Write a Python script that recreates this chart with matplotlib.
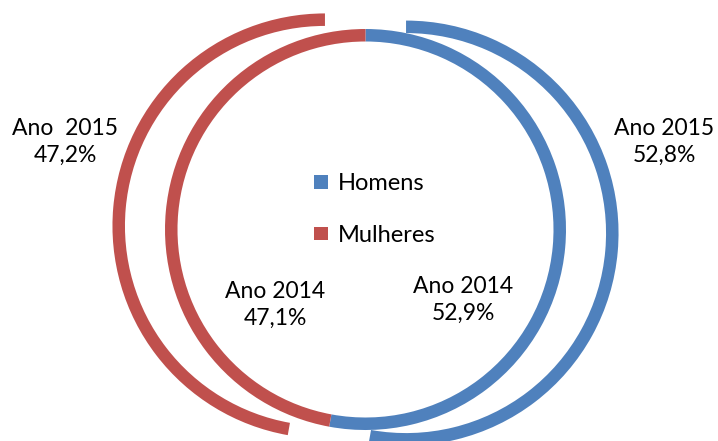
import matplotlib
matplotlib.use("Agg")
import matplotlib.pyplot as plt

plt.rcParams['font.family'] = ['Lato', 'DejaVu Sans']

# data
categories = ["Homens", "Mulheres"]
share_2014 = [52.9, 47.1]
share_2015 = [52.8, 47.2]
labels_2014 = ["Ano 2014\n52,9%", "Ano 2014\n47,1%"]
labels_2015 = ["Ano 2015\n52,8%", "Ano  2015\n47,2%"]
colors = ["#4F81BD", "#C0504D"]

W, H = 718, 441
CX, CY = 365.5, H - 229.5     # pixel-like data coords, y up
R_IN, R_OUT, RING = 200.5, 212.5, 12.5
EXPLODE = 40.7

fig = plt.figure(figsize=(W / 100, H / 100), dpi=100)
ax = fig.add_axes([0, 0, 1, 1])

# outer ring (2015), exploded
wedges, _ = ax.pie(share_2015, radius=R_OUT, center=(CX, CY), colors=colors,
                   startangle=90, counterclock=False,
                   explode=[EXPLODE, EXPLODE],
                   wedgeprops=dict(width=RING, linewidth=0))
# inner ring (2014)
ax.pie(share_2014, radius=R_IN, center=(CX, CY), colors=colors,
       startangle=90, counterclock=False,
       wedgeprops=dict(width=RING, linewidth=0))

ax.set_xlim(0, W)
ax.set_ylim(0, H)
ax.set_aspect('equal')
ax.axis('off')

txt = dict(ha='center', va='center', fontsize=16.5, linespacing=1.3, color='#000000')
ax.text(664.5, H - 142, labels_2015[0], **txt)
ax.text(65.5, H - 142, labels_2015[1], **txt)
ax.text(463.5, H - 300, labels_2014[0], **txt)
ax.text(275, H - 305, labels_2014[1], **txt)

leg = ax.legend(wedges, categories, loc='center left',
                bbox_to_anchor=(314 / W, 1 - 209.5 / H), frameon=False,
                fontsize=17, labelspacing=1.3, handlelength=0.6,
                handleheight=0.5, handletextpad=0.4, borderpad=0,
                borderaxespad=0)

fig.savefig("out.png", dpi=100)
